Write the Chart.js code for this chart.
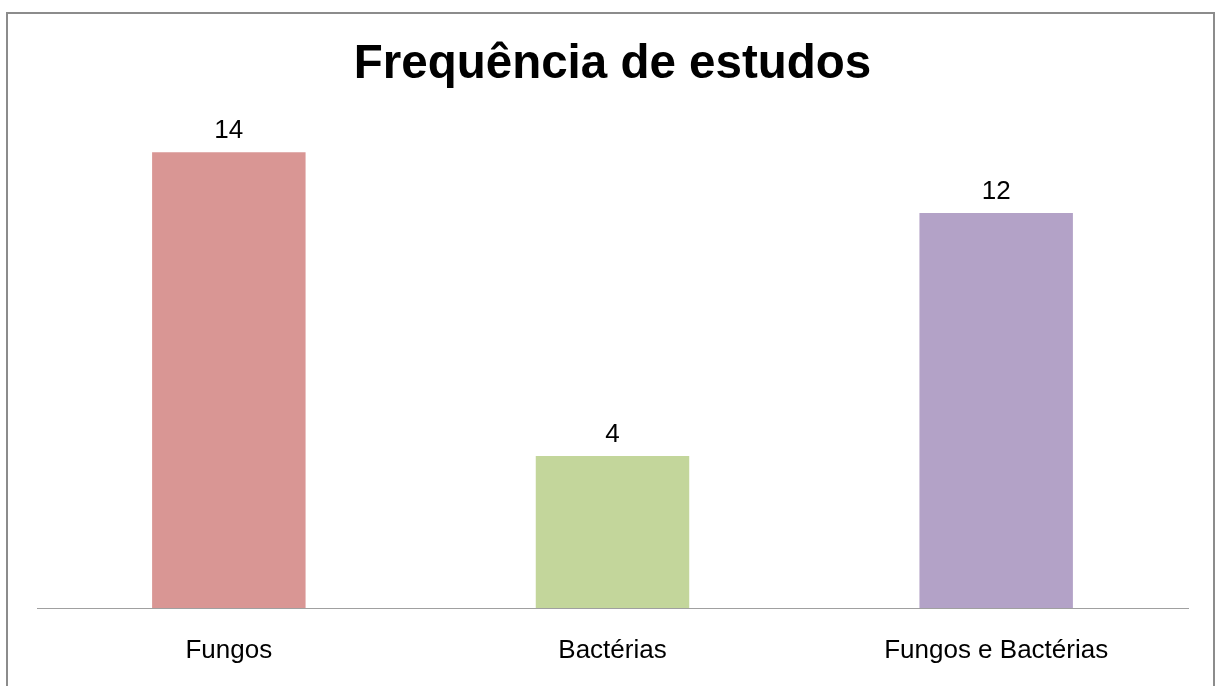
<!DOCTYPE html>
<html>
<head>
<meta charset="utf-8">
<script src="https://cdn.jsdelivr.net/npm/chart.js@4/dist/chart.umd.min.js"></script>
<style>
  html, body { margin: 0; padding: 0; background: #fff; overflow: hidden; }
  #frame { position: absolute; left: 6px; top: 12px; width: 1205px; height: 700px; border: 2px solid #8c8c8c; }
  #wrap { position: absolute; left: 0; top: 0; width: 1218px; height: 686px; }
</style>
</head>
<body>
<div id="frame"></div>
<div id="wrap"><canvas id="c" width="1218" height="686"></canvas></div>
<script>
// dados
const categories = ['Fungos', 'Bactérias', 'Fungos e Bactérias'];
const studyCounts = [14, 4, 12];
const barColors = ['#D99694', '#C3D69B', '#B3A2C7'];

const FONT = '"Liberation Sans", Arial, sans-serif';

// rótulos de valor acima das barras
const valueLabels = {
  id: 'valueLabels',
  afterDatasetsDraw(chart) {
    const ctx = chart.ctx;
    const meta = chart.getDatasetMeta(0);
    ctx.save();
    ctx.font = '26px ' + FONT;
    ctx.fillStyle = '#000';
    ctx.textAlign = 'center';
    ctx.textBaseline = 'middle';
    meta.data.forEach((bar, i) => {
      ctx.fillText(String(studyCounts[i]), bar.x, bar.y - 21);
    });
    ctx.restore();
  }
};

new Chart(document.getElementById('c').getContext('2d'), {
  type: 'bar',
  data: {
    labels: categories,
    datasets: [{
      data: studyCounts,
      backgroundColor: barColors,
      borderWidth: 0,
      base: -1,
      categoryPercentage: 1.0,
      barPercentage: 0.4
    }]
  },
  options: {
    responsive: false,
    animation: false,
    layout: { padding: { left: 37, right: 30, top: 0, bottom: 0 } },
    plugins: {
      legend: { display: false },
      tooltip: { enabled: false },
      title: {
        display: true,
        text: 'Frequência de estudos',
        color: '#000',
        font: { family: FONT, size: 47.5, weight: 'bold' },
        padding: { top: 36, bottom: -1.5 }
      }
    },
    scales: {
      y: { display: false, min: -1, max: 16 },
      x: {
        afterFit: s => { s.height = 78; },
        grid: { drawOnChartArea: false, drawTicks: false },
        border: { display: true, color: '#a0a0a0', width: 1 },
        ticks: { color: '#000', font: { family: FONT, size: 26 }, padding: 27 }
      }
    }
  },
  plugins: [valueLabels]
});
</script>
</body>
</html>
